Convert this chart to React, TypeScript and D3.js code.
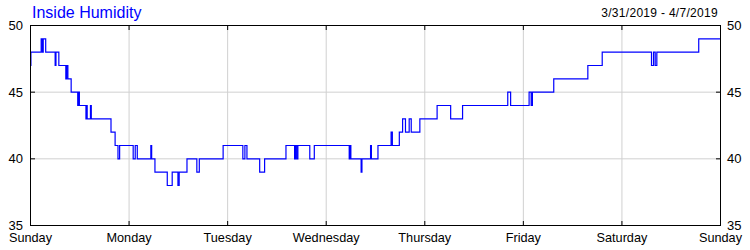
import React from "react";
import * as d3 from "d3";

const title = "Inside Humidity";
const dateRange = "3/31/2019 - 4/7/2019";
const dayLabels = ["Sunday", "Monday", "Tuesday", "Wednesday", "Thursday", "Friday", "Saturday", "Sunday"];
const yTicks = [35, 40, 45, 50];

// hours since Sunday 00:00
const hours = [
  0, 0.1, 2.6, 2.9, 3.1, 3.7, 6.0, 6.2, 6.9, 8.6, 8.8, 9.1, 9.9, 11.5, 11.7, 11.9,
  13.5, 13.6, 13.8, 14.6, 14.8, 19.6, 20.6, 21.3, 21.7, 25.0, 25.5, 26.0, 29.3, 29.5,
  30.3, 33.3, 34.5, 35.9, 36.2, 38.1, 40.5, 41.1, 46.9, 51.7, 52.2, 52.7, 55.8, 57.0,
  62.2, 64.3, 64.5, 64.8, 65.1, 68.0, 69.1, 77.6, 77.8, 78.0, 80.5, 80.7, 82.8, 83.0,
  84.6, 87.8, 88.1, 89.8, 90.6, 91.3, 92.2, 92.7, 94.8, 99.0, 102.3, 105.2, 116.2,
  116.9, 121.4, 121.9, 122.2, 127.4, 135.7, 139.2, 151.2, 151.7, 152.1, 152.5, 162.7, 168,
];
const humidity = [
  47, 48, 49, 48, 49, 48, 47, 48, 47, 46, 47, 46, 45, 44, 45, 44,
  43, 44, 43, 44, 43, 42, 41, 40, 41, 40, 41, 40, 41, 40,
  39, 38, 39, 38, 39, 40, 39, 40, 41, 40, 41, 40, 39, 40,
  41, 40, 41, 40, 41, 40, 41, 40, 41, 40, 39, 40, 41, 40,
  41, 42, 41, 42, 43, 42, 43, 42, 43, 44, 43, 44, 45,
  44, 45, 44, 45, 46, 47, 48, 47, 48, 47, 48, 49, 49,
];

const W = 750;
const H = 250;
const L = 30, R = 720, T = 25, B = 225;
const font = "'Liberation Sans', Arial, sans-serif";

export default function App() {
  const x = d3.scaleLinear().domain([0, 168]).range([L + 0.5, R + 0.5]);
  const y = d3.scaleLinear().domain([35, 50]).range([B + 0.5, T + 0.5]);
  const data = hours.map((h, i) => [h, humidity[i]] as [number, number]);
  const line = d3
    .line<[number, number]>()
    .x((d) => x(d[0]))
    .y((d) => y(d[1]))
    .curve(d3.curveStepAfter);
  const dayTicks = d3.range(0, 8).map((i) => i * 24);

  return (
    <svg width={W} height={H} style={{ position: "absolute", left: 0, top: 0, background: "#fff" }}>
      <rect x={0} y={0} width={W} height={H} fill="#fff" />
      {/* grid */}
      {dayTicks.slice(1, 7).map((h) => (
        <line key={"vg" + h} x1={x(h)} x2={x(h)} y1={T} y2={B} stroke="#d0d0d0" strokeWidth={1} />
      ))}
      {yTicks.slice(1, 3).map((v) => (
        <line key={"hg" + v} x1={L} x2={R} y1={y(v)} y2={y(v)} stroke="#d0d0d0" strokeWidth={1} />
      ))}
      {/* data line */}
      <path d={line(data) || ""} fill="none" stroke="#0000ff" strokeWidth={1.2} />
      {/* frame */}
      <rect x={L + 0.5} y={T + 0.5} width={R - L} height={B - T} fill="none" stroke="#000" strokeWidth={1} />
      {/* ticks */}
      {dayTicks.slice(1, 7).map((h) => (
        <g key={"t" + h}>
          <line x1={x(h)} x2={x(h)} y1={T} y2={T + 5} stroke="#000" />
          <line x1={x(h)} x2={x(h)} y1={B + 1} y2={B - 4} stroke="#000" />
        </g>
      ))}
      {yTicks.slice(1, 3).map((v) => (
        <g key={"yt" + v}>
          <line x1={L} x2={L + 5} y1={y(v)} y2={y(v)} stroke="#000" />
          <line x1={R + 1} x2={R - 4} y1={y(v)} y2={y(v)} stroke="#000" />
        </g>
      ))}
      {/* y labels */}
      {yTicks.map((v) => (
        <g key={"yl" + v} fontFamily={font} fontSize={13} fill="#000">
          <text x={L - 7} y={y(v)} dy="0.35em" textAnchor="end">{v}</text>
          <text x={R + 7} y={y(v)} dy="0.35em" textAnchor="start">{v}</text>
        </g>
      ))}
      {/* x labels */}
      {dayTicks.map((h, i) => (
        <text key={"xl" + i} x={x(h)} y={241.5} textAnchor="middle" fontFamily={font} fontSize={12.7} fill="#000">
          {dayLabels[i]}
        </text>
      ))}
      <text x={32} y={18} fontFamily={font} fontSize={16} fill="#0000ff">{title}</text>
      <text x={718} y={17} textAnchor="end" fontFamily={font} fontSize={12} letterSpacing={0.3} fill="#000">{dateRange}</text>
    </svg>
  );
}
